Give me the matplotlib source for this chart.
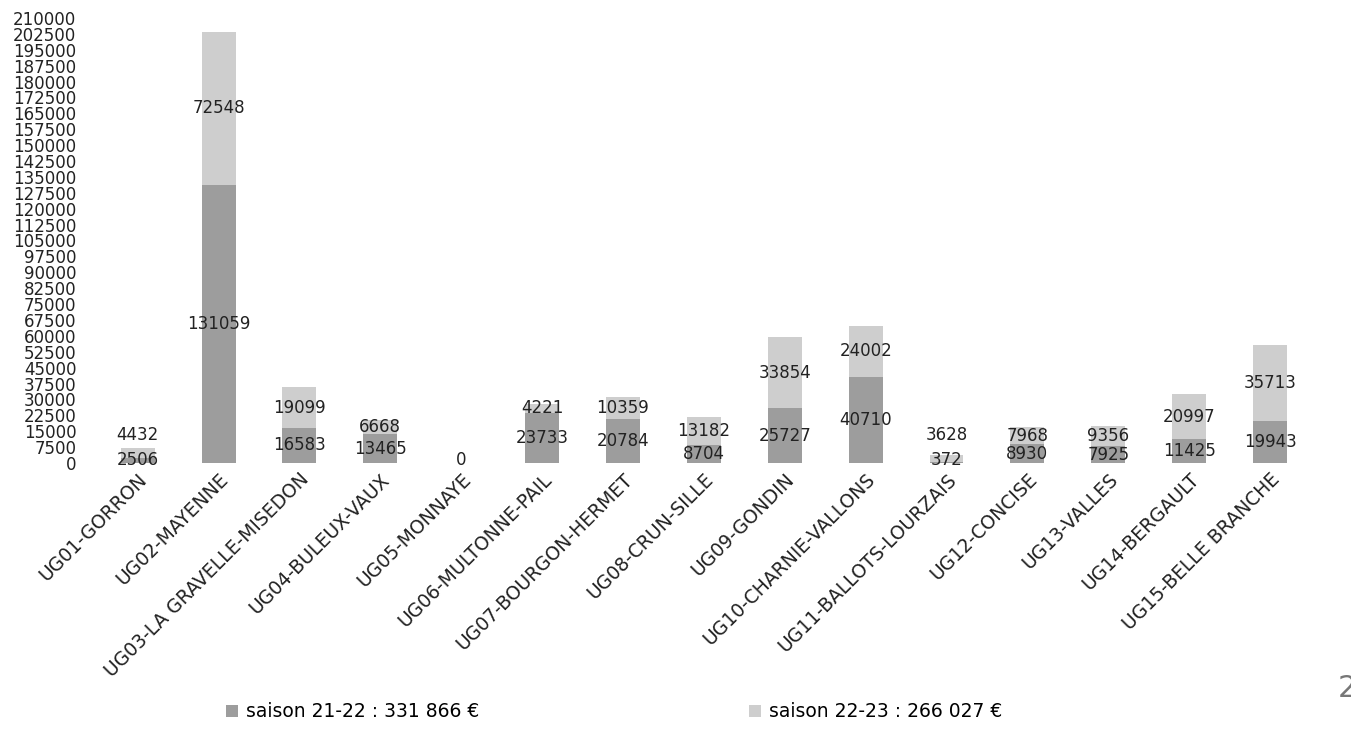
import matplotlib
matplotlib.use("Agg")
import matplotlib.pyplot as plt
from matplotlib.patches import Patch
import numpy as np

# Data
categories = ["UG01-GORRON", "UG02-MAYENNE", "UG03-LA GRAVELLE-MISEDON", "UG04-BULEUX-VAUX",
              "UG05-MONNAYE", "UG06-MULTONNE-PAIL", "UG07-BOURGON-HERMET", "UG08-CRUN-SILLE",
              "UG09-GONDIN", "UG10-CHARNIE-VALLONS", "UG11-BALLOTS-LOURZAIS", "UG12-CONCISE",
              "UG13-VALLES", "UG14-BERGAULT", "UG15-BELLE BRANCHE"]
saison_21_22 = [2506, 131059, 16583, 13465, 0, 23733, 20784, 8704, 25727, 40710, 372, 8930, 7925, 11425, 19943]
saison_22_23 = [4432, 72548, 19099, 6668, 0, 4221, 10359, 13182, 33854, 24002, 3628, 7968, 9356, 20997, 35713]
legend_labels = ["saison 21-22 : 331 866 €", "saison 22-23 : 266 027 €"]
y_ticks = np.arange(0, 210001, 7500)

dark = "#9d9d9d"
light = "#cecece"

fig = plt.figure(figsize=(13.51, 7.31), dpi=100)
ax = fig.add_axes([0.072, 0.3666, 0.898, 0.6088])

x = np.arange(len(categories))
a = np.array(saison_21_22)
b = np.array(saison_22_23)
ax.bar(x, a, width=0.42, color=dark)
ax.bar(x, b, width=0.42, bottom=a, color=light)

# data labels, centred in each segment, pushed apart when crowded
for i in range(len(x)):
    y_dark = max(a[i] / 2, 1250)
    y_light = a[i] + b[i] / 2
    if y_light - y_dark < 8000:
        y_light = y_dark + 12000
    ax.text(x[i], y_dark, str(a[i]), ha="center", va="center", fontsize=12, color="#222222")
    if b[i] > 0:
        ax.text(x[i], y_light, str(b[i]), ha="center", va="center", fontsize=12, color="#222222")

ax.set_xlim(-0.5, len(categories) - 0.5)
ax.set_ylim(0, 210000)
ax.set_yticks(y_ticks)
ax.set_yticklabels([str(v) for v in y_ticks], fontsize=12, color="#222222")
ax.set_xticks(x)
ax.set_xticklabels(categories, rotation=45, ha="right", va="top", rotation_mode="anchor",
                   fontsize=13.5, color="#222222")
ax.tick_params(axis="y", length=0, pad=15)
ax.tick_params(axis="x", length=0, pad=5)
for s in ax.spines.values():
    s.set_visible(False)

handles = [Patch(facecolor=dark), Patch(facecolor=light)]
fig.legend(handles, legend_labels, ncol=2, loc="center", bbox_to_anchor=(0.4545, 0.026),
           frameon=False, handlelength=0.65, handleheight=0.65, handletextpad=0.4,
           columnspacing=14.4, prop={"size": 13.5})

# page number cut off at the right edge of the scan
fig.text(0.99, 0.058, "20", fontsize=22, color="#777777", ha="left", va="center")

fig.savefig("out.png", dpi=100)
